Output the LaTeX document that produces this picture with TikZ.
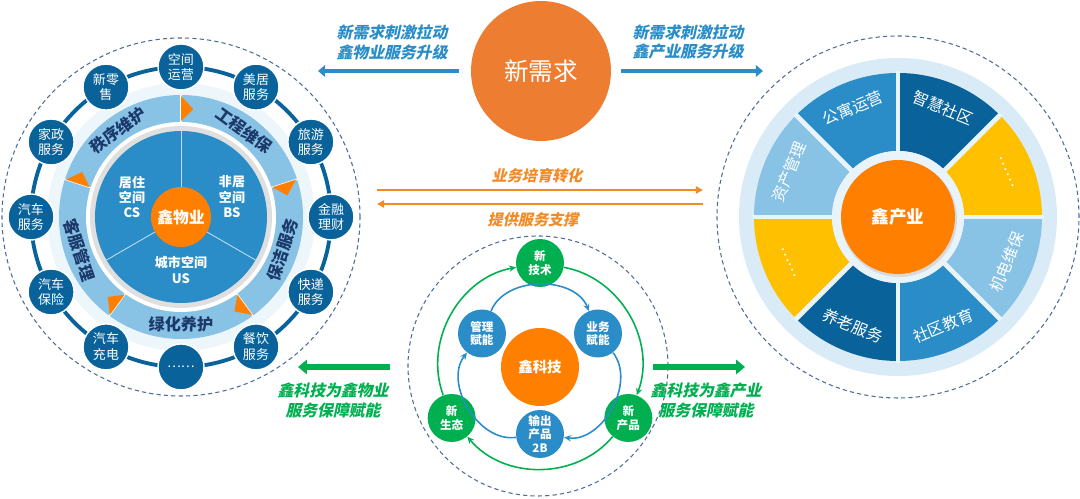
\documentclass[tikz,border=0pt]{standalone}
\usepackage{fontspec}
\setmainfont{Noto Sans CJK SC}
\newfontfamily\cjkslant[FakeSlant=0.22]{Noto Sans CJK SC}
\usetikzlibrary{arrows.meta,positioning,calc}
\definecolor{needorange}{HTML}{ED7D31}
\definecolor{huborange}{HTML}{FF8000}
\definecolor{linkorange}{HTML}{F28A26}
\definecolor{midblue}{HTML}{2A8DC8}
\definecolor{darkblue}{HTML}{09639A}
\definecolor{lightblue}{HTML}{88C2E5}
\definecolor{paleblue}{HTML}{D8EBF7}
\definecolor{navy}{HTML}{1B3A6B}
\definecolor{techgreen}{HTML}{00B050}
\definecolor{gold}{HTML}{FFC000}
\definecolor{dashblue}{HTML}{4D6C96}

\begin{document}
\begin{tikzpicture}[
    x=0.02cm, y=0.02cm,
    hub/.style={circle, fill=huborange, text=white, inner sep=0pt, align=center, font=\bfseries\fontsize{9}{10}\selectfont},
    svc/.style={circle, fill=darkblue, draw=white, line width=0.8pt, minimum size=0.92cm, inner sep=0pt, align=center, text=white, font=\fontsize{7.4}{9}\selectfont},
    bandtxt/.style={text=navy, inner sep=0pt, font=\bfseries\fontsize{9.2}{10}\selectfont},
    spacetxt/.style={text=white, align=center, inner sep=0pt, font=\bfseries\fontsize{7.4}{8.8}\selectfont},
    halo/.style={draw=dashblue, dash pattern=on 2.4pt off 1.8pt, line width=0.6pt},
    tech/.style={circle, fill=techgreen, minimum size=0.96cm, inner sep=0pt, align=center, text=white, font=\bfseries\fontsize{6.6}{7.6}\selectfont},
    enable/.style={tech, fill=midblue},
    garc/.style={techgreen, line width=0.9pt, -{Stealth[length=4pt,width=3.6pt]}},
    barc/.style={midblue, line width=0.9pt, -{Stealth[length=4pt,width=3.6pt]}},
    segtxt/.style={text=white, inner sep=0pt, font=\fontsize{9}{10}\selectfont},
    note/.style={align=center, inner sep=0pt, font=\cjkslant\bfseries\fontsize{9}{11.3}\selectfont},
    bluearrow/.style={midblue, line width=2.8pt, -{Triangle[length=4pt,width=6.5pt]}},
    greenarrow/.style={techgreen, line width=3.4pt, -{Triangle[length=5pt,width=8pt]}},
    linkarrow/.style={linkorange, line width=1.1pt, -{Triangle[length=4pt,width=4pt]}},
]
\useasboundingbox (0,0) rectangle (1080,499);

% ---- left wheel: property services
\begin{scope}[shift={(181,282)}]
    \draw[halo] (0,0) circle[radius=179];
    \fill[paleblue!45] (0,0) circle[radius=134];
    \draw[darkblue, line width=2.2pt] (0,0) circle[radius=150];
    \fill[lightblue] (0,0) circle[radius=122];
    \fill[white] (0,0) circle[radius=95];
    \fill[gray!25] (0,0) circle[radius=91];
    \fill[midblue] (0,0) circle[radius=86];
    % service band with arrow marks
    \foreach \a in {90,18,-54,-126,162} {
        \draw[white, line width=0.8pt] (\a:95) -- (\a:122);
        \fill[huborange] (\a:96) -- (\a:121) -- ({\a-6.5}:108.5) -- cycle;
    }
    \node[bandtxt, rotate=36] (order) at (126:107) {秩序维护};
    \node[bandtxt, rotate=-36] (works) at (54:107) {工程维保};
    \node[bandtxt, rotate=72] (clean) at (-18:107) {保洁服务};
    \node[bandtxt] (green) at (270:107) {绿化养护};
    \node[bandtxt, rotate=-72] (custom) at (198:107) {客服管理};
    % spaces
    \foreach \a in {90,-30,210}
        \draw[white!70!midblue, line width=0.5pt] (\a:30) -- (\a:86);
    \node[spacetxt] (cs) at (-49,20) {居住\\空间\\CS};
    \node[spacetxt] (bs) at (51,20) {非居\\空间\\BS};
    \node[spacetxt] (us) at (0,-53) {城市空间\\US};
    \node[hub, minimum size=1.2cm] (wy) at (0,0) {鑫物业};
    % extended services
    \foreach \a/\t [count=\i] in {90/空间\\运营, 60/美居\\服务, 30/旅游\\服务, 0/金融\\理财,
        -30/快递\\服务, -60/餐饮\\服务, -90/……, -120/汽车\\充电, -150/汽车\\保险,
        180/汽车\\服务, 150/家政\\服务, 120/新零\\售}
        \node[svc] (ext\i) at (\a:150) {\t};
\end{scope}

% ---- new demand
\node[circle, fill=needorange, minimum size=2.8cm, inner sep=0pt, text=white,
    font=\fontsize{14}{15}\selectfont] (need) at (541,428) {新需求};
\coordinate (needl) at (318,428);
\coordinate (needr) at (763,428);
\draw[bluearrow, shorten <=0.24cm] (need) -- (needl);
\draw[bluearrow, shorten <=0.2cm] (need) -- (needr);
\node[note, text=midblue] (needlt) at (392,457) {新需求刺激拉动\\鑫物业服务升级};
\node[note, text=midblue] (needrt) at (688,457) {新需求刺激拉动\\鑫产业服务升级};

% ---- incubation / support
\coordinate (incl) at (377,309);
\coordinate (incr) at (703,309);
\coordinate (supl) at (377,295);
\coordinate (supr) at (703,295);
\draw[linkarrow] (incl) -- (incr);
\draw[linkarrow] (supr) -- (supl);
\node[note, text=linkorange, font=\cjkslant\bfseries\fontsize{8.6}{10}\selectfont] (inct) at (537,323) {业务培育转化};
\node[note, text=linkorange, font=\cjkslant\bfseries\fontsize{8.6}{10}\selectfont] (supt) at (533,279) {提供服务支撑};

% ---- middle: technology
\begin{scope}[shift={(540,132)}]
    \draw[halo] (-2,1) circle[radius=130];
    \node[hub, minimum size=1.56cm, font=\bfseries\fontsize{8.2}{9}\selectfont] (kj) at (0,0) {鑫科技};
    \node[tech] (newtech) at (90:104) {新\\技术};
    \node[tech] (newprod) at (-30:102) {新\\产品};
    \node[tech] (neweco) at (210:102) {新\\生态};
    \node[enable] (mgmt) at (150:67) {管理\\赋能};
    \node[enable] (biz) at (30:67) {业务\\赋能};
    \node[enable] (out) at (270:67) {输出\\产品\\2B};
\end{scope}
\draw[garc] (newtech) to[bend left=50] (newprod);
\draw[garc] (newprod) to[bend left=50] (neweco);
\draw[garc] (neweco) to[bend left=50] (newtech);
\draw[barc] (mgmt) to[bend left=68] (biz);
\draw[barc] (biz) to[bend left=68] (out);
\draw[barc] (out) to[bend left=68] (mgmt);

\coordinate (techl) at (298,132);
\coordinate (techr) at (745,132);
\coordinate (techls) at (390,132);
\coordinate (techrs) at (653,132);
\draw[greenarrow] (techls) -- (techl);
\draw[greenarrow] (techrs) -- (techr);
\node[note, text=techgreen] (techlt) at (333,99) {鑫科技为鑫物业\\服务保障赋能};
\node[note, text=techgreen] (techrt) at (706,99) {鑫科技为鑫产业\\服务保障赋能};

% ---- right wheel: industry
\begin{scope}[shift={(898,282)}]
    \draw[halo] (0,0) circle[radius=181];
    \fill[paleblue] (0,0) circle[radius=159];
    \foreach \a/\c in {0/gold, 45/darkblue, 90/midblue, 135/lightblue,
        180/gold, 225/darkblue, 270/midblue, 315/lightblue}
        \fill[\c] (\a:66) arc[start angle=\a, end angle=\a+45, radius=66]
            -- ({\a+45}:144) arc[start angle=\a+45, end angle=\a, radius=144] -- cycle;
    \foreach \a in {0,45,...,315}
        \draw[paleblue!60!white, line width=2.8pt] (\a:60) -- (\a:146);
    \fill[paleblue!60!white] (0,0) circle[radius=66];
    \fill[gray!30] (1,-2) circle[radius=58];
    \node[hub, minimum size=2.28cm, font=\bfseries\fontsize{10}{11}\selectfont] (cy) at (0,0) {鑫产业};
    \node[segtxt, rotate=-67.5] (more1) at (22.5:118) {……};
    \node[segtxt, rotate=-22.5] (smart) at (67.5:118) {智慧社区};
    \node[segtxt, rotate=22.5] (flat) at (112.5:118) {公寓运营};
    \node[segtxt, rotate=67.5] (asset) at (157.5:118) {资产管理};
    \node[segtxt, rotate=-67.5] (more2) at (202.5:118) {……};
    \node[segtxt, rotate=-22.5] (elder) at (247.5:118) {养老服务};
    \node[segtxt, rotate=22.5] (edu) at (292.5:118) {社区教育};
    \node[segtxt, rotate=67.5] (mep) at (337.5:118) {机电维保};
\end{scope}
\end{tikzpicture}
\end{document}
